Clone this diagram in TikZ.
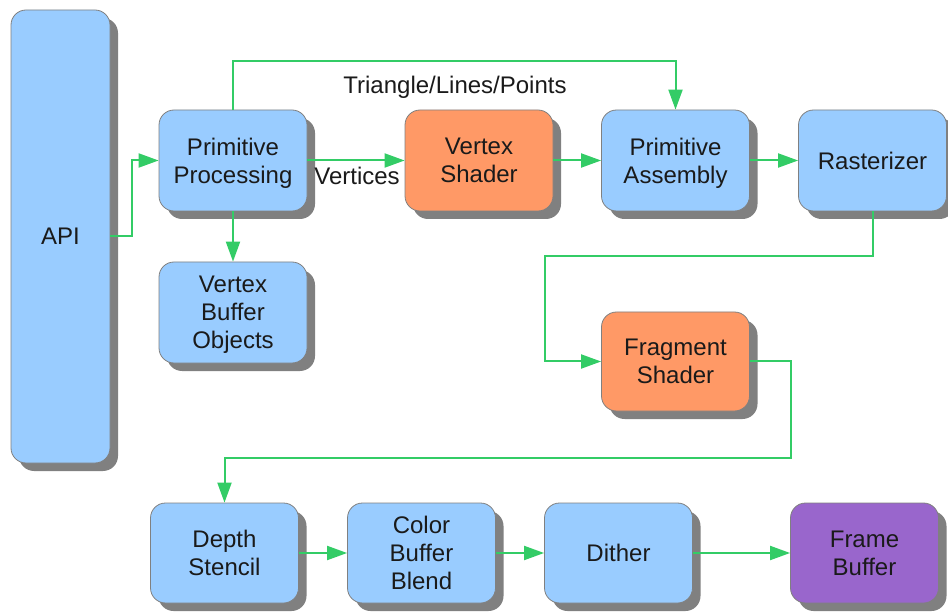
\documentclass[tikz,border=0pt]{standalone}
\usepackage{fontspec}
\setmainfont{Liberation Sans}
\usetikzlibrary{arrows.meta,shadows}

\definecolor{stageblue}{RGB}{153,204,255}
\definecolor{shaderorange}{RGB}{255,153,102}
\definecolor{bufferpurple}{RGB}{153,102,204}
\definecolor{flowgreen}{RGB}{51,204,102}
\definecolor{edgegray}{RGB}{128,128,128}
\definecolor{shadowgray}{RGB}{128,128,128}
\definecolor{inkdark}{RGB}{26,26,26}

\tikzset{
  stage/.style={draw=edgegray, line width=0.8pt, rounded corners=15pt,
    fill=stageblue, minimum width=148pt, minimum height=101pt,
    inner sep=0pt, align=center, text=inkdark,
    font=\fontsize{24}{28}\selectfont,
    % centre the text on its last baseline, ignoring descenders
    text depth=0pt,
    drop shadow={shadow xshift=8pt, shadow yshift=-8pt,
      fill=shadowgray, opacity=1}},
  shader/.style={stage, fill=shaderorange},
  framebuf/.style={stage, fill=bufferpurple},
  flow/.style={draw=flowgreen, line width=2pt,
    -{Triangle[length=20pt,width=14pt]}},
  tag/.style={text=inkdark, font=\fontsize{24}{28}\selectfont,
    inner sep=0pt, text depth=0pt}
}

\begin{document}
\begin{tikzpicture}[x=1pt,y=-1pt]
  \useasboundingbox (0,0) rectangle (948,612);

  % stages of the pipeline
  \node[stage, minimum width=99pt, minimum height=453pt] (api) at (60.5,236.5) {API};
  \node[stage] (pp)  at (233,160.5) {Primitive\\Processing};
  \node[shader] (vs) at (479,160.5) {Vertex\\Shader};
  \node[stage] (pa)  at (675.5,160.5) {Primitive\\Assembly};
  \node[stage] (ras) at (872.5,160.5) {Rasterizer};
  \node[stage] (vbo) at (233,312.5) {Vertex\\Buffer\\Objects};
  \node[shader, minimum height=99pt] (fs) at (675.5,361.5) {Fragment\\Shader};
  \node[stage, minimum height=100pt] (ds)  at (224.5,553) {Depth\\Stencil};
  \node[stage, minimum height=100pt] (cbb) at (421.5,553) {Color\\Buffer\\Blend};
  \node[stage, minimum height=100pt] (dth) at (618.5,553) {Dither};
  \node[framebuf, minimum height=100pt] (fb) at (864.5,553) {Frame\\Buffer};

  % corner points of the routed connectors
  \coordinate (rasdrop) at (545,256);
  \coordinate (fsdrop)  at (791,458);

  % connectors
  \draw[flow] (api.east) -- ++(22,0) |- (pp.west);
  \draw[flow] (pp.north) -- ++(0,-49) -| (pa.north);
  \draw[flow] (pp.east) -- (vs.west);
  \draw[flow] (vs.east) -- (pa.west);
  \draw[flow] (pa.east) -- (ras.west);
  \draw[flow] (pp.south) -- (vbo.north);
  \draw[flow] (ras.south) |- (rasdrop) |- (fs.west);
  \draw[flow] (fs.east) -| (fsdrop) -| (ds.north);
  \draw[flow] (ds.east) -- (cbb.west);
  \draw[flow] (cbb.east) -- (dth.west);
  \draw[flow] (dth.east) -- (fb.west);

  % connector labels
  \node[tag] (tlp) at (455,85.3) {Triangle/Lines/Points};
  \node[tag] (vtx) at (357,176) {Vertices};
\end{tikzpicture}
\end{document}
